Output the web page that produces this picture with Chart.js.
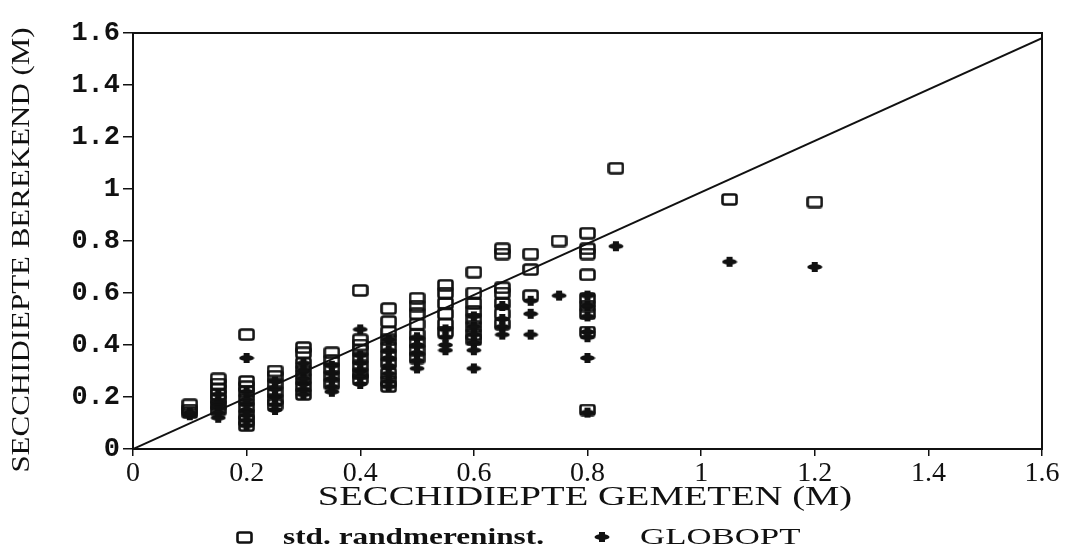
<!DOCTYPE html>
<html>
<head>
<meta charset="utf-8">
<script src="https://cdn.jsdelivr.net/npm/chart.js@4.4.0/dist/chart.umd.min.js"></script>
<style>
  html, body { margin: 0; padding: 0; background: #fff; }
  #wrap { width: 1070px; height: 553px; }
</style>
</head>
<body>
<div id="wrap"><canvas id="chart" width="1070" height="553"></canvas></div>
<script>
// Measured Secchi depth (x) per group of points
const stdX = [0.1, 0.15, 0.2, 0.25, 0.3, 0.35, 0.4, 0.45, 0.5, 0.55, 0.6, 0.65, 0.7, 0.75, 0.8, 0.85, 1.05, 1.2];
// std. randmereninst. computed values at each x
const stdY = [
    [0.17, 0.15, 0.14],
    [0.27, 0.25, 0.23, 0.21, 0.19, 0.17, 0.15],
    [0.44, 0.26, 0.24, 0.22, 0.19, 0.16, 0.13, 0.11, 0.09],
    [0.30, 0.28, 0.25, 0.22, 0.19, 0.17],
    [0.39, 0.37, 0.33, 0.30, 0.27, 0.24, 0.21],
    [0.37, 0.34, 0.31, 0.28, 0.25],
    [0.61, 0.42, 0.40, 0.38, 0.35, 0.32, 0.29, 0.27],
    [0.54, 0.49, 0.45, 0.42, 0.39, 0.36, 0.33, 0.29, 0.26, 0.24],
    [0.58, 0.55, 0.52, 0.48, 0.44, 0.41, 0.38, 0.35],
    [0.63, 0.60, 0.56, 0.52, 0.48, 0.45],
    [0.68, 0.60, 0.56, 0.53, 0.50, 0.47, 0.44, 0.42],
    [0.77, 0.75, 0.62, 0.60, 0.56, 0.52, 0.48],
    [0.75, 0.69, 0.59],
    [0.80],
    [0.83, 0.77, 0.75, 0.67, 0.58, 0.55, 0.52, 0.45, 0.15],
    [1.08],
    [0.96],
    [0.95]
];
// GLOBOPT computed values at each x
const globY = [
    [0.14, 0.13],
    [0.21, 0.18, 0.16, 0.14, 0.12],
    [0.35, 0.22, 0.19, 0.17, 0.15, 0.13, 0.11, 0.09],
    [0.26, 0.23, 0.20, 0.17, 0.15],
    [0.33, 0.30, 0.27, 0.25, 0.23, 0.21],
    [0.32, 0.29, 0.27, 0.24, 0.22],
    [0.46, 0.36, 0.33, 0.30, 0.28, 0.25],
    [0.42, 0.38, 0.35, 0.32, 0.29, 0.26, 0.24],
    [0.43, 0.40, 0.37, 0.34, 0.31],
    [0.46, 0.43, 0.40, 0.38],
    [0.51, 0.47, 0.44, 0.41, 0.38, 0.31],
    [0.55, 0.50, 0.47, 0.44],
    [0.57, 0.52, 0.44],
    [0.59],
    [0.59, 0.55, 0.51, 0.45, 0.43, 0.35, 0.14],
    [0.78],
    [0.72],
    [0.70]
];
// Reference line
const lineX = [0, 1.6];
const lineY = [0, 1.58];

const xTickLabels = ['0', '0.2', '0.4', '0.6', '0.8', '1', '1.2', '1.4', '1.6'];
const yTickLabels = ['0', '0.2', '0.4', '0.6', '0.8', '1', '1.2', '1.4', '1.6'];

const seriesNames = ['std. randmereninst.', 'GLOBOPT'];
const xTitle = 'SECCHIDIEPTE GEMETEN (M)';
const yTitle = 'SECCHIDIEPTE BEREKEND (M)';

const ink = '#111';

// Build point lists
function toPoints(ys) {
    const pts = [];
    ys.forEach((group, i) => group.forEach(y => pts.push({ x: stdX[i], y: y })));
    return pts;
}

// Marker images
function makeRectMarker() {
    const c = document.createElement('canvas');
    c.width = 17; c.height = 13;
    const g = c.getContext('2d');
    g.strokeStyle = ink;
    g.lineWidth = 2.6;
    g.beginPath();
    g.roundRect(1.5, 1.5, 14, 10, 2);
    g.stroke();
    return c;
}
function makePlusMarker() {
    const c = document.createElement('canvas');
    c.width = 16; c.height = 12;
    const g = c.getContext('2d');
    g.fillStyle = ink;
    g.beginPath();
    g.ellipse(8, 6, 7.5, 3, 0, 0, Math.PI * 2);
    g.fill();
    g.fillRect(5, 1, 6, 10);
    return c;
}
const rectMarker = makeRectMarker();
const plusMarker = makePlusMarker();

// draw text stretched horizontally around its centre
function stretchedText(ctx, text, x, y, sx, rot) {
    ctx.save();
    ctx.translate(x, y);
    if (rot) ctx.rotate(rot);
    ctx.scale(sx, 1);
    ctx.textAlign = 'center';
    ctx.textBaseline = 'middle';
    ctx.fillText(text, 0, 0);
    ctx.restore();
}

// Frame, axis titles and legend
const framePlugin = {
    id: 'frame',
    afterDatasetsDraw(chart) {
        const { ctx, chartArea: a } = chart;
        ctx.save();
        ctx.strokeStyle = ink;
        ctx.lineWidth = 2;
        ctx.strokeRect(a.left, a.top, a.right - a.left, a.bottom - a.top);
        ctx.restore();
    },
    afterDraw(chart) {
        const ctx = chart.ctx;
        ctx.save();
        ctx.fillStyle = ink;
        // axis titles
        ctx.font = '28px "Liberation Serif"';
        stretchedText(ctx, xTitle, 585, 498, 1.38, 0);
        ctx.font = '26px "Liberation Serif"';
        stretchedText(ctx, yTitle, 22, 250, 1.19, -Math.PI / 2);
        // legend
        const y = 538;
        ctx.drawImage(rectMarker, 236, y - 7);
        ctx.font = 'bold 23px "Liberation Serif"';
        ctx.save();
        ctx.translate(283, y);
        ctx.scale(1.36, 1);
        ctx.textBaseline = 'middle';
        ctx.fillText(seriesNames[0], 0, 0);
        ctx.restore();
        ctx.drawImage(plusMarker, 594, y - 7);
        ctx.font = '24px "Liberation Serif"';
        ctx.save();
        ctx.translate(640, y);
        ctx.scale(1.45, 1);
        ctx.textBaseline = 'middle';
        ctx.fillText(seriesNames[1], 0, 0);
        ctx.restore();
        ctx.restore();
    }
};

const ctx = document.getElementById('chart').getContext('2d');
new Chart(ctx, {
    type: 'scatter',
    data: {
        datasets: [
            {
                label: seriesNames[0],
                data: toPoints(stdY),
                pointStyle: rectMarker,
                pointRadius: 7
            },
            {
                label: seriesNames[1],
                data: toPoints(globY),
                pointStyle: plusMarker,
                pointRadius: 7
            },
            {
                type: 'line',
                label: 'line',
                data: lineX.map((x, i) => ({ x: x, y: lineY[i] })),
                borderColor: ink,
                borderWidth: 2,
                pointRadius: 0,
                fill: false
            }
        ]
    },
    options: {
        responsive: false,
        animation: false,
        layout: { padding: { top: 33, right: 28, bottom: 38, left: 0 } },
        plugins: {
            legend: { display: false },
            tooltip: { enabled: false }
        },
        scales: {
            x: {
                type: 'linear',
                min: 0, max: 1.6,
                afterFit: s => { s.height = 66; },
                ticks: {
                    stepSize: 0.2,
                    color: ink,
                    padding: 1,
                    maxRotation: 0,
                    font: { family: '"Liberation Serif"', size: 28 },
                    callback: (v, i) => xTickLabels[i]
                },
                grid: { drawOnChartArea: false, color: ink, tickLength: 7, lineWidth: 1.5 },
                border: { color: ink, width: 2 }
            },
            y: {
                min: 0, max: 1.6,
                afterFit: s => { s.width = 133; },
                ticks: {
                    stepSize: 0.2,
                    color: ink,
                    padding: 3,
                    font: { family: '"Liberation Mono"', size: 27, weight: 'bold' },
                    callback: (v, i) => yTickLabels[i]
                },
                grid: { drawOnChartArea: false, color: ink, tickLength: 10, lineWidth: 1.5 },
                border: { color: ink, width: 2 }
            }
        }
    },
    plugins: [framePlugin]
});
</script>
</body>
</html>
